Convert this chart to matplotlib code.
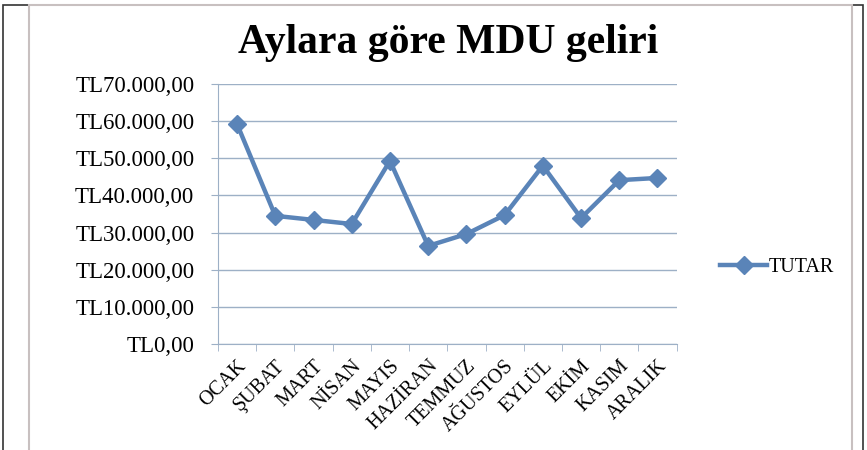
import matplotlib
matplotlib.use("Agg")
import matplotlib.pyplot as plt
from matplotlib.ticker import FuncFormatter, FixedLocator
from matplotlib.patches import Rectangle

# Aylara gore MDU geliri (TL)
aylar = ["OCAK", "ŞUBAT", "MART", "NİSAN", "MAYIS", "HAZİRAN",
         "TEMMUZ", "AĞUSTOS", "EYLÜL", "EKİM", "KASIM", "ARALIK"]
tutar = [59200, 34500, 33400, 32300, 49300, 26400,
         29600, 34700, 48000, 33900, 44100, 44700]
y_ticks = [0, 10000, 20000, 30000, 40000, 50000, 60000, 70000]

plt.rcParams['font.family'] = ['Liberation Serif', 'DejaVu Serif']

blue = "#5A84B8"
grid_c = "#9DB0C6"

fig = plt.figure(figsize=(8.67, 4.5), dpi=100)
ax = fig.add_axes([0.2514, 0.2356, 0.529, 0.5778])

x = list(range(len(aylar)))
line, = ax.plot(x, tutar, color=blue, lw=3.2, marker="D", ms=9,
                mfc=blue, mec=blue, label="TUTAR")

def tl_fmt(v, pos):
    s = f"{int(v):,}".replace(",", ".")
    return f"TL{s},00"

ax.set_ylim(0, 70000)
ax.set_yticks(y_ticks)
ax.yaxis.set_major_formatter(FuncFormatter(tl_fmt))
ax.set_xlim(-0.5, len(aylar) - 0.5)
ax.set_xticks(x)
ax.set_xticklabels(aylar, rotation=45, ha="right", rotation_mode="anchor")
ax.xaxis.set_minor_locator(FixedLocator([i - 0.5 for i in range(len(aylar) + 1)]))
ax.tick_params(axis="x", which="major", length=0, pad=9, labelsize=14.5)
ax.tick_params(axis="x", which="minor", length=5, color=grid_c, direction="out")
ax.tick_params(axis="y", length=5, color=grid_c, labelsize=16.5, pad=12)

ax.grid(axis="y", color=grid_c, lw=1)
ax.set_axisbelow(True)
for s in ["top", "right"]:
    ax.spines[s].set_visible(False)
for s in ["left", "bottom"]:
    ax.spines[s].set_color(grid_c)

fig.text(0.517, 0.905, "Aylara göre MDU geliri", ha="center", va="center",
         fontsize=30, fontweight="bold")

leg = fig.legend(handles=[line], loc="center left", bbox_to_anchor=(0.81, 0.405),
                 frameon=False, fontsize=14.5, handlelength=2.3, handletextpad=0.1)

# outer frame and chart area border
fig.patches.append(Rectangle((0.003, -0.01), 0.992, 1.0, transform=fig.transFigure,
                             fill=False, ec="#333333", lw=1.2))
fig.patches.append(Rectangle((0.034, -0.01), 0.949, 1.0, transform=fig.transFigure,
                             fill=False, ec="#C8C0C0", lw=1.5))

fig.savefig("out.png", dpi=100)
